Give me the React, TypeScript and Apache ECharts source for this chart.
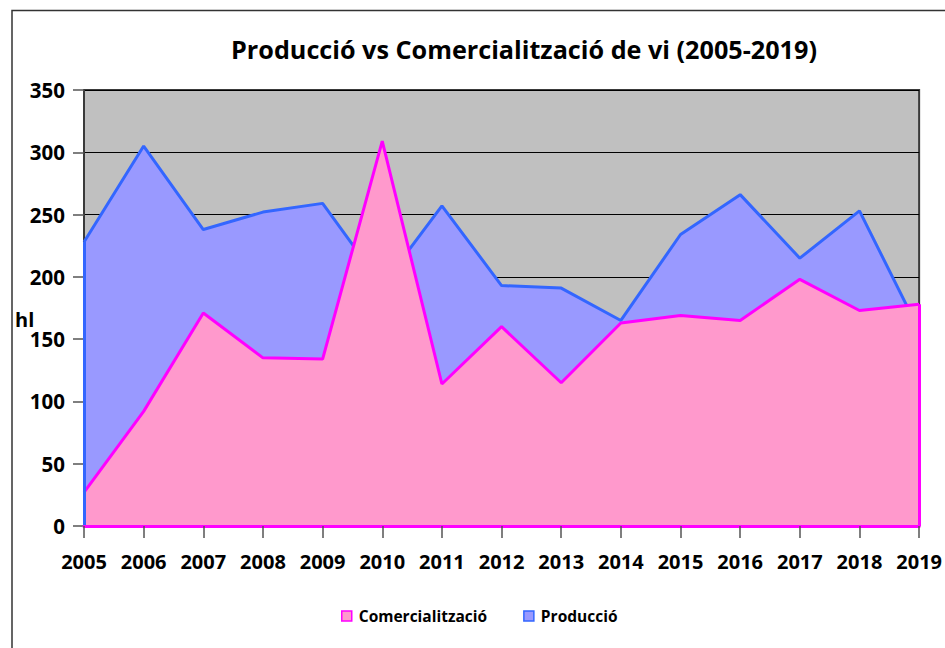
import React, { useEffect, useRef } from "react";
import * as echarts from "echarts";

const years = ["2005", "2006", "2007", "2008", "2009", "2010", "2011", "2012", "2013", "2014", "2015", "2016", "2017", "2018", "2019"];
const comercialitzacio = [27, 92, 171, 135, 134, 309, 114, 160, 115, 163, 169, 165, 198, 173, 178];
const produccio = [228, 305, 238, 252, 259, 193, 257, 193, 191, 165, 234, 266, 215, 253, 157];
const yTicks = { min: 0, max: 350, interval: 50 };

const FONT = "Open Sans";
const PINK_LINE = "#ff00ff";
const PINK_FILL = "#ff99cc";
const BLUE_LINE = "#3366ff";
const BLUE_FILL = "#9999ff";

export default function App() {
  const ref = useRef<HTMLDivElement>(null);
  useEffect(() => {
    if (!ref.current) return;
    const chart = echarts.init(ref.current, null, { renderer: "svg" });
    const last = years.length - 1;
    chart.setOption({
      animation: false,
      backgroundColor: "#ffffff",
      title: {
        text: "Producció vs Comercialització de vi (2005-2019)",
        left: 519,
        top: 31,
        textAlign: "center",
        textStyle: { fontFamily: FONT, fontWeight: "bold", fontSize: 25.2, color: "#000" },
      },
      graphic: [
        {
          type: "rect",
          shape: { x: 12, y: 10.5, width: 1000, height: 1000 },
          style: { fill: "none", stroke: "#333", lineWidth: 1.5 },
          silent: true,
          z: -10,
        },
        {
          type: "text",
          left: 15,
          top: 309,
          style: { text: "hl", fontFamily: FONT, fontWeight: "bold", fontSize: 20, fill: "#000" },
        },
      ],
      legend: {
        left: 341,
        top: 608,
        padding: 0,
        icon: "rect",
        itemWidth: 10,
        itemHeight: 10,
        itemGap: 36,
        textStyle: { fontFamily: FONT, fontWeight: "bold", fontSize: 15.5, color: "#000", padding: [0, 0, 0, 2] },
        data: [
          { name: "Comercialització", itemStyle: { color: PINK_FILL, borderColor: PINK_LINE, borderWidth: 1.5 } },
          { name: "Producció", itemStyle: { color: BLUE_FILL, borderColor: BLUE_LINE, borderWidth: 1.5 } },
        ],
      },
      grid: {
        left: 84,
        right: 25,
        top: 90,
        bottom: 122,
        show: true,
        backgroundColor: "#c0c0c0",
        borderColor: "#3a3a3a",
        borderWidth: 2,
      },
      xAxis: {
        type: "category",
        data: years,
        boundaryGap: false,
        z: 5,
        axisLine: { show: true, lineStyle: { color: PINK_LINE, width: 3 } },
        axisTick: { show: true, length: 12, interval: 0, lineStyle: { color: "#555", width: 1.5 } },
        axisLabel: { interval: 0, fontFamily: FONT, fontWeight: "bold", fontSize: 20, color: "#000", margin: 25 },
        splitLine: { show: false },
      },
      yAxis: {
        type: "value",
        min: yTicks.min,
        max: yTicks.max,
        interval: yTicks.interval,
        axisLine: { show: true, lineStyle: { color: "#3a3a3a", width: 2 } },
        axisTick: { show: true, length: 11, lineStyle: { color: "#555", width: 1.5 } },
        axisLabel: { fontFamily: FONT, fontWeight: "bold", fontSize: 20.5, color: "#000", margin: 19 },
        splitLine: { show: true, lineStyle: { color: "#000", width: 1 } },
      },
      series: [
        {
          name: "Comercialització",
          type: "line",
          data: comercialitzacio,
          z: 3,
          symbol: "none",
          lineStyle: { color: PINK_LINE, width: 3 },
          itemStyle: { color: PINK_FILL, borderColor: PINK_LINE },
          areaStyle: { color: PINK_FILL, opacity: 1 },
          markLine: {
            silent: true,
            symbol: ["none", "none"],
            label: { show: false },
            lineStyle: { color: PINK_LINE, width: 3, type: "solid" },
            data: [
              [{ coord: [years[0], 0] }, { coord: [years[0], comercialitzacio[0]] }],
              [{ coord: [years[last], 0] }, { coord: [years[last], comercialitzacio[last]] }],
            ],
          },
        },
        {
          name: "Producció",
          type: "line",
          data: produccio,
          z: 2,
          symbol: "none",
          lineStyle: { color: BLUE_LINE, width: 3 },
          itemStyle: { color: BLUE_FILL, borderColor: BLUE_LINE },
          areaStyle: { color: BLUE_FILL, opacity: 1 },
          markLine: {
            silent: true,
            symbol: ["none", "none"],
            label: { show: false },
            lineStyle: { color: BLUE_LINE, width: 3, type: "solid" },
            data: [[{ coord: [years[0], 0] }, { coord: [years[0], produccio[0]] }]],
          },
        },
      ],
    });
    return () => chart.dispose();
  }, []);
  return (
    <div
      ref={ref}
      style={{ position: "fixed", left: 0, top: 0, width: 945, height: 648, background: "#fff" }}
    />
  );
}
